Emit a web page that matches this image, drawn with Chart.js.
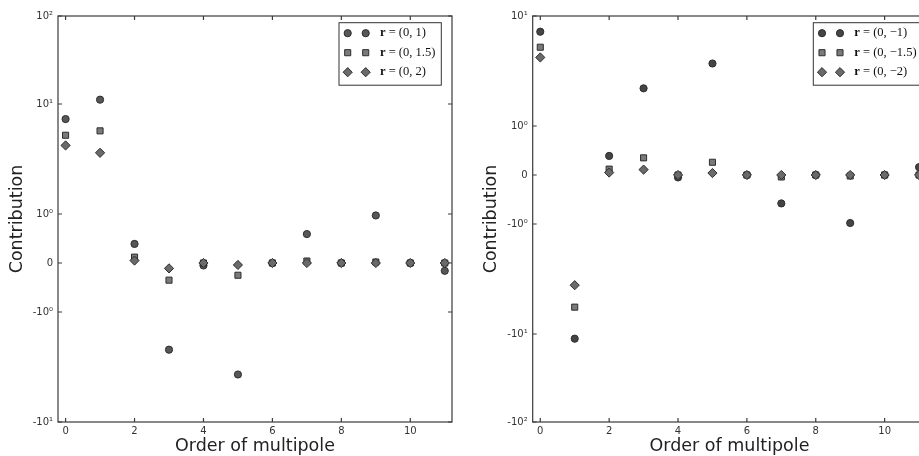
<!DOCTYPE html>
<html>
<head>
<meta charset="utf-8">
<script src="https://cdn.jsdelivr.net/npm/chart.js@4.4.0/dist/chart.umd.min.js"></script>
<style>
  html, body { margin: 0; padding: 0; background: #fff; overflow: hidden; }
  #wrap { position: relative; width: 919px; height: 456px; overflow: hidden; }
  #leftChart { position: absolute; left: 0; top: 0; }
  #rightChart { position: absolute; left: 460px; top: 0; }
</style>
</head>
<body>
<div id="wrap">
  <canvas id="leftChart" width="460" height="456"></canvas>
  <canvas id="rightChart" width="475" height="456"></canvas>
</div>
<script>
// 多極の次数
const orders = [0, 1, 2, 3, 4, 5, 6, 7, 8, 9, 10, 11];

// 左: r = (0, 1), (0, 1.5), (0, 2)
const upper1  = [7.3, 11.2, 0.39, -2.2, -0.05, -3.7, 0, 0.59, 0, 0.97, 0, -0.16];
const upper15 = [5.2, 5.7, 0.12, -0.35, 0, -0.25, 0, 0.04, 0, 0.02, 0, 0];
const upper2  = [4.2, 3.6, 0.05, -0.11, 0, -0.04, 0, 0, 0, 0, 0, 0];

// 右: r = (0, -1), (0, -1.5), (0, -2)
const lower1  = [7.2, -11.3, 0.39, 2.2, -0.05, 3.7, 0, -0.58, 0, -0.98, 0, 0.16];
const lower15 = [5.2, -5.7, 0.12, 0.35, 0, 0.26, 0, -0.04, 0, -0.02, 0, 0];
const lower2  = [4.2, -3.6, 0.05, 0.11, 0, 0.04, 0, 0, 0, 0, 0, 0];

// 目盛り
const xTicks = [0, 2, 4, 6, 8, 10];
const leftYTicks = [-10, -1, 0, 1, 10, 100];
const rightYTicks = [-100, -10, -1, 0, 1, 10];

const leftNames = ['(0, 1)', '(0, 1.5)', '(0, 2)'];
const rightNames = ['(0, \u22121)', '(0, \u22121.5)', '(0, \u22122)'];

Chart.defaults.font.family = 'DejaVu Sans';
Chart.defaults.color = '#333';

// symlog 変換（|y|<1 は線形）
const LIN = 49 / 110;
const OUTER = 0.8; // 元図では一番外側のデケードが少し短い
function symlog(v) {
  const a = Math.abs(v);
  let t;
  if (a < 1) t = a * LIN;
  else if (a <= 10) t = LIN + Math.log10(a);
  else t = LIN + 1 + OUTER * Math.log10(a / 10);
  return v < 0 ? -t : t;
}
function symlogInv(t) {
  const a = Math.abs(t);
  let v;
  if (a < LIN) v = a / LIN;
  else if (a <= LIN + 1) v = Math.pow(10, a - LIN);
  else v = 10 * Math.pow(10, (a - LIN - 1) / OUTER);
  return t < 0 ? -v : v;
}

class SymlogScale extends Chart.LinearScale {
  configure() {
    super.configure();
    this._tMin = symlog(this.min);
    this._tMax = symlog(this.max);
  }
  getPixelForValue(v) {
    return this.getPixelForDecimal((symlog(v) - this._tMin) / (this._tMax - this._tMin));
  }
  getValueForPixel(p) {
    return symlogInv(this._tMin + this.getDecimalForPixel(p) * (this._tMax - this._tMin));
  }
}
SymlogScale.id = 'symlog';
SymlogScale.defaults = Chart.LinearScale.defaults;
Chart.register(SymlogScale);

const SUP = { '0': '\u2070', '1': '\u00b9', '2': '\u00b2' };
function symlogLabel(v) {
  if (v === 0) return '0';
  const e = Math.round(Math.log10(Math.abs(v)));
  return (v < 0 ? '-' : '') + '10' + String(e).split('').map(c => SUP[c]).join('');
}

const STYLES = [
  { pointStyle: 'circle', radius: 3.6 },
  { pointStyle: 'rect', radius: 4.3 },
  { pointStyle: 'rectRot', radius: 4.6 }
];

function series(label, vals, i, fill) {
  return {
    label: label,
    data: orders.map((o, k) => ({ x: o, y: vals[k] })),
    pointStyle: STYLES[i].pointStyle,
    pointRadius: STYLES[i].radius,
    pointHoverRadius: STYLES[i].radius,
    backgroundColor: fill,
    borderColor: '#2e2e2e',
    pointBorderWidth: 1,
    showLine: false,
    order: 3 - i
  };
}

// 枠と内向きの目盛り線
const frameTicks = {
  id: 'frameTicks',
  afterDraw(chart) {
    const { ctx, chartArea: a, scales: { x, y } } = chart;
    ctx.save();
    ctx.strokeStyle = '#3a3a3a';
    ctx.lineWidth = 1.2;
    ctx.strokeRect(a.left, a.top, a.right - a.left, a.bottom - a.top);
    ctx.beginPath();
    x.ticks.forEach(t => {
      const px = x.getPixelForValue(t.value);
      ctx.moveTo(px, a.bottom); ctx.lineTo(px, a.bottom - 4);
      ctx.moveTo(px, a.top); ctx.lineTo(px, a.top + 4);
    });
    y.ticks.forEach(t => {
      const py = y.getPixelForValue(t.value);
      ctx.moveTo(a.left, py); ctx.lineTo(a.left + 4, py);
      ctx.moveTo(a.right, py); ctx.lineTo(a.right - 4, py);
    });
    ctx.stroke();
    ctx.restore();
  }
};

// 凡例（マーカー2つ + ラベル）
function markerLegend(names, fills) {
  return {
    id: 'markerLegend',
    afterDraw(chart) {
      const { ctx, chartArea: a } = chart;
      ctx.save();
      const fontB = 'bold 12.5px "Liberation Serif"';
      const fontN = '12.5px "Liberation Serif"';
      let maxW = 0;
      names.forEach(n => {
        ctx.font = fontB; let w = ctx.measureText('r').width;
        ctx.font = fontN; w += ctx.measureText(' = ' + n).width;
        maxW = Math.max(maxW, w);
      });
      const boxW = 41 + maxW + 6;
      const boxH = 62.5;
      const left = a.right - 113;
      const top = a.top + 6.7;
      ctx.fillStyle = '#fff';
      ctx.fillRect(left, top, boxW, boxH);
      ctx.strokeStyle = '#333';
      ctx.lineWidth = 1;
      ctx.strokeRect(left, top, boxW, boxH);
      names.forEach((n, i) => {
        const cy = top + 10.5 + i * 19.5;
        ctx.fillStyle = fills[i];
        ctx.strokeStyle = '#2e2e2e';
        ctx.lineWidth = 1;
        const opts = { pointStyle: STYLES[i].pointStyle, radius: STYLES[i].radius, rotation: 0, borderWidth: 1 };
        Chart.helpers.drawPoint(ctx, opts, left + 8.7, cy);
        Chart.helpers.drawPoint(ctx, opts, left + 26.7, cy);
        ctx.fillStyle = '#111';
        ctx.textBaseline = 'middle';
        ctx.textAlign = 'left';
        ctx.font = fontB;
        ctx.fillText('r', left + 41, cy);
        const rw = ctx.measureText('r').width;
        ctx.font = fontN;
        ctx.fillText(' = ' + n, left + 41 + rw, cy);
      });
      ctx.restore();
    }
  };
}

function makeChart(id, sets, yMin, yMax, yTicks, yWidth, titlePad, padRight, names, fills) {
  return new Chart(document.getElementById(id), {
    type: 'scatter',
    data: { datasets: sets },
    options: {
      responsive: false,
      animation: false,
      events: [],
      layout: { padding: { left: 0, right: padRight, top: 16, bottom: 0 } },
      plugins: { legend: { display: false }, tooltip: { enabled: false } },
      scales: {
        x: {
          type: 'linear',
          min: -0.22,
          max: 11.21,
          afterBuildTicks: s => { s.ticks = xTicks.map(v => ({ value: v })); },
          afterFit: s => { s.height = 34; },
          grid: { display: false, drawTicks: false },
          border: { display: false },
          ticks: { padding: 3, font: { size: 10 }, color: '#333', callback: v => String(v) },
          title: {
            display: true, text: 'Order of multipole', color: '#222',
            font: { size: 17.5, lineHeight: 1.1 }, padding: { top: 0, bottom: 0 }
          }
        },
        y: {
          type: 'symlog',
          min: yMin,
          max: yMax,
          afterBuildTicks: s => { s.ticks = yTicks.map(v => ({ value: v })); },
          afterFit: s => { s.width = yWidth; },
          grid: { display: false, drawTicks: false },
          border: { display: false },
          ticks: { padding: 5, font: { size: 10 }, color: '#333', callback: v => symlogLabel(v) },
          title: {
            display: true, text: 'Contribution', color: '#222',
            font: { size: 17.5, lineHeight: 1.1 }, padding: { top: titlePad, bottom: 0 }
          }
        }
      }
    },
    plugins: [frameTicks, markerLegend(names, fills)]
  });
}

const leftFills = ['#575757', '#7a7a7a', '#6a6a6a'];
const rightFills = ['#444444', '#7a7a7a', '#6a6a6a'];

makeChart('leftChart', [
  series('r = (0, 1)', upper1, 0, leftFills[0]),
  series('r = (0, 1.5)', upper15, 1, leftFills[1]),
  series('r = (0, 2)', upper2, 2, leftFills[2])
], -10, 100, leftYTicks, 58, 7.4, 8, leftNames, leftFills);

makeChart('rightChart', [
  series('r = (0, -1)', lower1, 0, rightFills[0]),
  series('r = (0, -1.5)', lower15, 1, rightFills[1]),
  series('r = (0, -2)', lower2, 2, rightFills[2])
], -100, 10, rightYTicks, 72.7, 22.1, 8.7, rightNames, rightFills);
</script>
</body>
</html>
